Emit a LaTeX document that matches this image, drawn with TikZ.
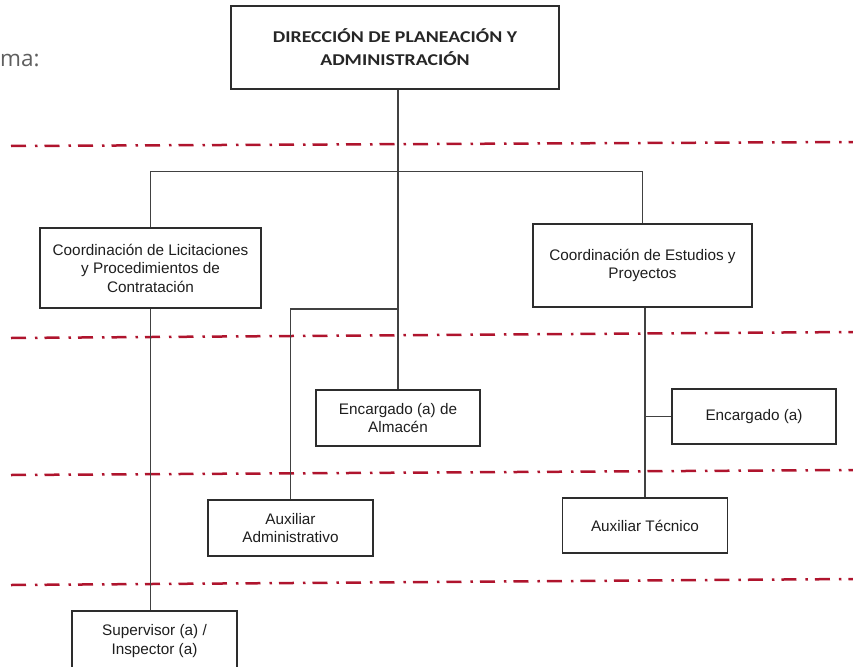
\documentclass[tikz,border=0pt]{standalone}
\usepackage{fontspec}
\setmainfont{Liberation Sans}
\newfontfamily\calib{Carlito}[FakeStretch=1.2]
\newfontfamily\opens{Open Sans}
\definecolor{rlc}{RGB}{175,20,45}
\definecolor{boxc}{RGB}{45,45,45}
\definecolor{linec}{RGB}{65,65,65}
\definecolor{txtc}{RGB}{30,30,30}
\definecolor{grayt}{RGB}{95,95,95}
\tikzset{
  box/.style={draw=boxc, line width=1.4pt, inner sep=0pt, align=center, text=txtc,
    font=\fontsize{15.3}{18.5}\selectfont},
  topbox/.style={box, font=\calib\bfseries\fontsize{16.5}{23}\selectfont, text=black!85},
  conn/.style={draw=linec, line width=1.3pt},
  redline/.style={draw=rlc, line width=2.5pt, dash pattern=on 15pt off 9pt on 2.5pt off 7pt}
}
\begin{document}
\begin{tikzpicture}[x=1pt,y=-1pt]
\useasboundingbox (0,0) rectangle (853,666);
% partial caption text
\node[anchor=base west, inner sep=0pt, text=grayt, font=\opens\fontsize{22.5}{26}\selectfont] (cap) at (0,67) {ma:};
% red dash-dot separator lines
\draw[redline] (11,146) -- (853,142);
\draw[redline] (11,338) -- (853,332);
\draw[redline] (11,475) -- (853,470);
\draw[redline] (11,585) -- (853,579);
% boxes
\node[topbox, minimum width=328pt, minimum height=83pt] (top) at (395,47.5) {DIRECCIÓN DE PLANEACIÓN Y\\ADMINISTRACIÓN};
\node[box, minimum width=221pt, minimum height=80pt] (lic) at (150.5,268) {Coordinación de Licitaciones\\y Procedimientos de\\Contratación};
\node[box, minimum width=219pt, minimum height=83pt] (est) at (642.5,265.5) {Coordinación de Estudios y\\Proyectos};
\node[box, minimum width=164pt, minimum height=56pt] (alm) at (398,418) {Encargado (a) de\\Almacén};
\node[box, minimum width=164pt, minimum height=55pt] (enc) at (754,416.5) {Encargado (a)};
\node[box, minimum width=165pt, minimum height=56pt] (adm) at (290.5,528) {Auxiliar\\Administrativo};
\node[box, minimum width=165pt, minimum height=55pt] (tec) at (645,525.5) {Auxiliar Técnico};
\node[box, minimum width=165pt, minimum height=60pt] (sup) at (154.5,641) {Supervisor (a) /\\Inspector (a)};
% connectors
\coordinate (j1) at (398,309);
\draw[conn] (top.south -| alm.north) -- (alm.north);
\draw[conn] (lic.north) -- ++(0,-56) -| (est.north);
\draw[conn] (j1) -| (adm.north);
\draw[conn] (lic.south) -- (lic.south |- sup.north);
\draw[conn] (tec.north |- est.south) -- (tec.north);
\draw[conn] (enc.west) -- (enc.west -| tec.north);
\end{tikzpicture}
\end{document}
